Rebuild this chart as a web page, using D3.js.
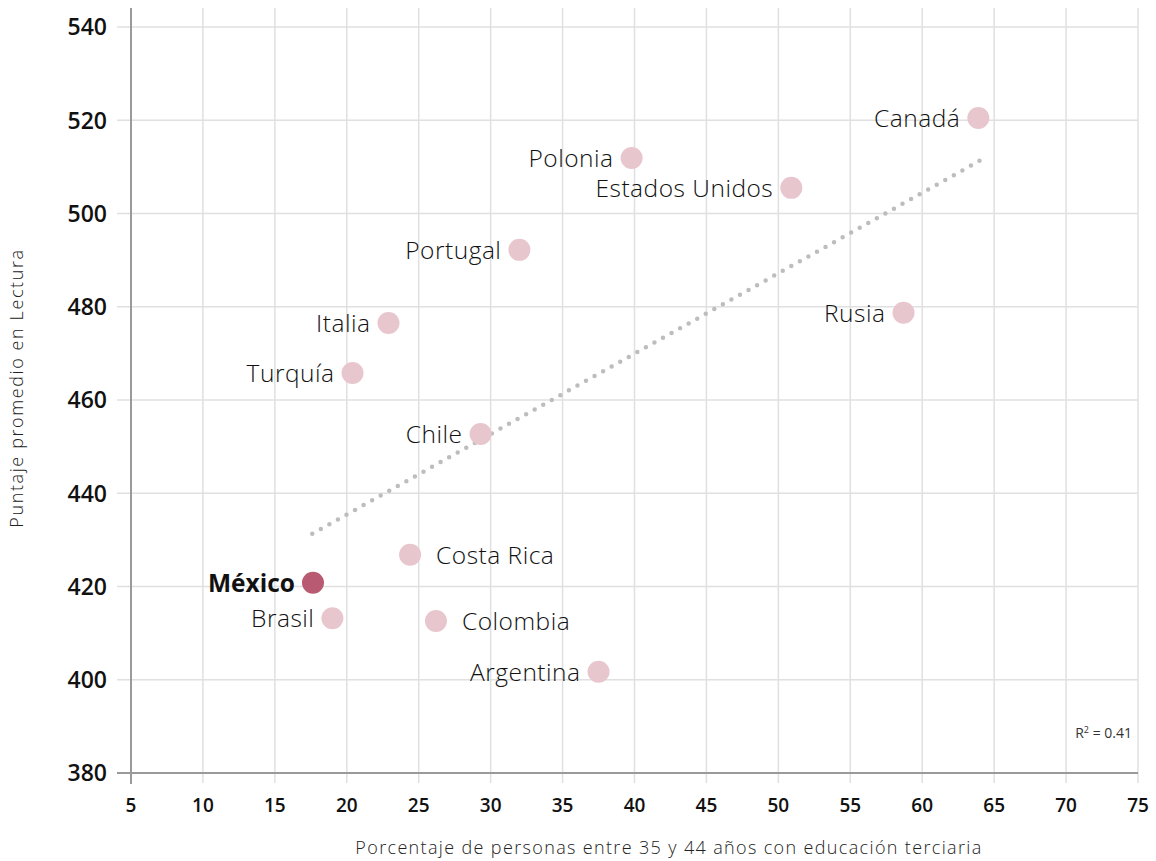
<!DOCTYPE html>
<html>
<head>
<meta charset="utf-8">
<script src="https://cdn.jsdelivr.net/npm/d3@7"></script>
<style>
  html, body { margin: 0; padding: 0; background: #fff; }
  svg { display: block; }
</style>
</head>
<body>
<svg id="chart" width="1156" height="861"></svg>
<script>
// Countries, share of 35–44 year-olds with tertiary education, and mean reading score
const countries = ["Canadá", "Polonia", "Estados Unidos", "Portugal", "Rusia", "Italia", "Turquía", "Chile", "Costa Rica", "México", "Brasil", "Colombia", "Argentina"];
const tertiaryPct = [63.9, 39.8, 50.9, 32.0, 58.7, 22.9, 20.4, 29.3, 24.4, 17.65, 19.0, 26.2, 37.5];
const readingScore = [520.5, 511.9, 505.5, 492.2, 478.7, 476.5, 465.8, 452.7, 426.8, 420.8, 413.2, 412.6, 401.7];
// label side: "l" = text left of dot, "r" = text right of dot
const labelSide = ["l", "l", "l", "l", "l", "l", "l", "l", "r", "l", "l", "r", "l"];
const highlight = "México";

// Trend line endpoints (x, y) and its fit
const trendX = [17.6, 64.1];
const trendY = [431.3, 511.5];
const rSquared = "0.41";

const xTicks = [5, 10, 15, 20, 25, 30, 35, 40, 45, 50, 55, 60, 65, 70, 75];
const yTicks = [380, 400, 420, 440, 460, 480, 500, 520, 540];

const svg = d3.select("#chart");
const x = d3.scaleLinear().domain([5, 75]).range([131, 1138]);
const y = d3.scaleLinear().domain([380, 540]).range([773, 27]);

const gridColor = "#e0e0e0";
const axisColor = "#9a9a9a";

// Vertical grid
svg.append("g").selectAll("line").data(xTicks).join("line")
  .attr("x1", d => x(d)).attr("x2", d => x(d))
  .attr("y1", 8).attr("y2", 783)
  .attr("stroke", gridColor).attr("stroke-width", 1.5);

// Horizontal grid
svg.append("g").selectAll("line").data(yTicks).join("line")
  .attr("x1", 117).attr("x2", 1138)
  .attr("y1", d => y(d)).attr("y2", d => y(d))
  .attr("stroke", gridColor).attr("stroke-width", 1.5);

// Axis lines
svg.append("line").attr("x1", x(5)).attr("x2", x(5)).attr("y1", 8).attr("y2", 784)
  .attr("stroke", axisColor).attr("stroke-width", 2);
svg.append("line").attr("x1", 117).attr("x2", 1138).attr("y1", y(380)).attr("y2", y(380))
  .attr("stroke", axisColor).attr("stroke-width", 2);

// Tick labels
const font = "'Open Sans', 'DejaVu Sans', sans-serif";
svg.append("g").selectAll("text").data(yTicks).join("text")
  .attr("x", 107).attr("y", d => y(d)).attr("dy", "0.36em")
  .attr("text-anchor", "end")
  .attr("font-family", font).attr("font-weight", 600).attr("font-size", 23)
  .attr("fill", "#111")
  .text(d => d);

svg.append("g").selectAll("text").data(xTicks).join("text")
  .attr("x", d => x(d)).attr("y", 812)
  .attr("text-anchor", "middle")
  .attr("font-family", font).attr("font-weight", 600).attr("font-size", 19)
  .attr("fill", "#111")
  .text(d => d);

// Axis titles
svg.append("text")
  .attr("x", 669).attr("y", 854)
  .attr("text-anchor", "middle")
  .attr("font-family", font).attr("font-weight", 300).attr("font-size", 18)
  .attr("letter-spacing", 1.35)
  .attr("fill", "#222")
  .text("Porcentaje de personas entre 35 y 44 años con educación terciaria");

svg.append("text")
  .attr("transform", "translate(23,388) rotate(-90)")
  .attr("text-anchor", "middle")
  .attr("font-family", font).attr("font-weight", 300).attr("font-size", 18)
  .attr("letter-spacing", 1.6)
  .attr("fill", "#222")
  .text("Puntaje promedio en Lectura");

// Trend line (dotted)
svg.append("line")
  .attr("x1", x(trendX[0])).attr("y1", y(trendY[0]))
  .attr("x2", x(trendX[1])).attr("y2", y(trendY[1]))
  .attr("stroke", "#bdbdbd").attr("stroke-width", 4.5)
  .attr("stroke-linecap", "round")
  .attr("stroke-dasharray", "0 9.8");

// R² annotation
const r2 = svg.append("text")
  .attr("x", 1132).attr("y", 738)
  .attr("text-anchor", "end")
  .attr("font-family", font).attr("font-weight", 400).attr("font-size", 14)
  .attr("fill", "#333");
r2.append("tspan").text("R");
r2.append("tspan").attr("font-size", 9).attr("dy", -5).text("2");
r2.append("tspan").attr("dy", 5).text(" = " + rSquared);

// Points and labels
const data = countries.map((c, i) => ({ name: c, xv: tertiaryPct[i], yv: readingScore[i], side: labelSide[i] }));

svg.append("g").selectAll("circle").data(data).join("circle")
  .attr("cx", d => x(d.xv)).attr("cy", d => y(d.yv))
  .attr("r", 11)
  .attr("fill", d => d.name === highlight ? "#b85a71" : "#e8c6cd");

svg.append("g").selectAll("text").data(data).join("text")
  .attr("x", d => x(d.xv) + (d.side === "l" ? -18 : 26))
  .attr("y", d => y(d.yv)).attr("dy", "0.36em")
  .attr("text-anchor", d => d.side === "l" ? "end" : "start")
  .attr("font-family", font)
  .attr("font-weight", d => d.name === highlight ? 700 : 300)
  .attr("font-size", 24.5)
  .attr("letter-spacing", d => d.name === highlight ? 0 : 0.5)
  .attr("fill", "#111")
  .text(d => d.name);
</script>
</body>
</html>
